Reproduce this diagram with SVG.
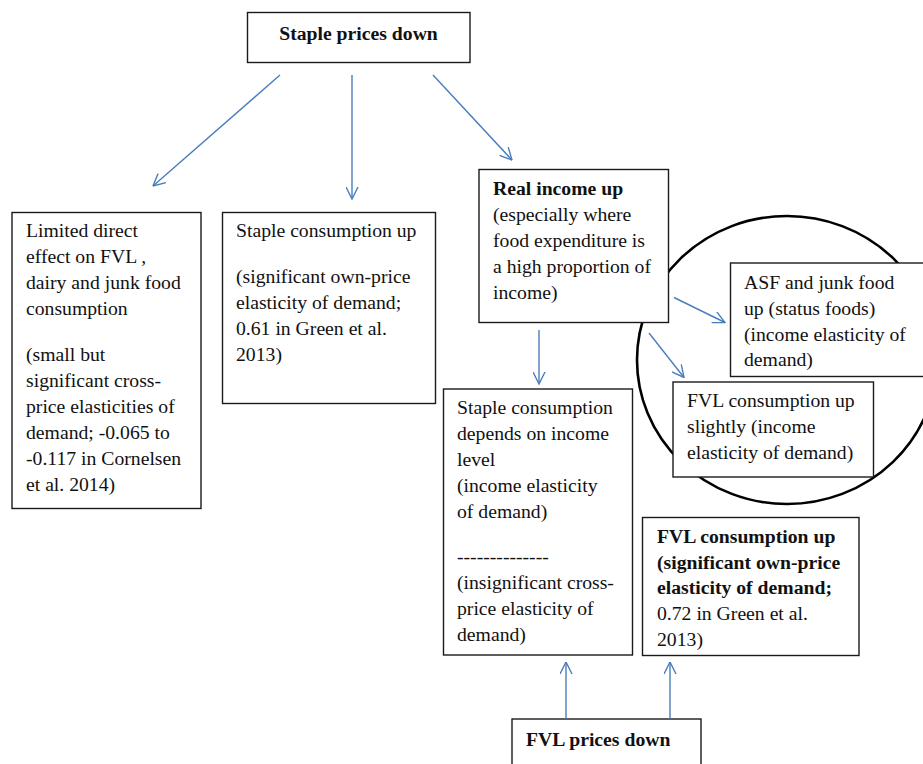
<svg xmlns="http://www.w3.org/2000/svg" width="923" height="764" viewBox="0 0 923 764">
<style>
  .box { fill: #ffffff; stroke: #1a1a1a; stroke-width: 1.4; }
  .t { font-family: "Liberation Serif", "Times New Roman", serif; font-size: 19.7px; fill: #111; }
  .b { font-weight: bold; }
  .conn line { stroke: #4a7ebb; stroke-width: 1.4; marker-end: url(#ah); }
</style>
<defs>
  <marker id="ah" viewBox="0 0 13 13" refX="12.5" refY="6.5" markerWidth="13" markerHeight="13" markerUnits="userSpaceOnUse" orient="auto">
    <path d="M0.5,0.5 L12.5,6.5 L0.5,12.5" fill="none" stroke="#4a7ebb" stroke-width="1.4"/>
  </marker>
</defs>
<rect width="923" height="764" fill="#ffffff"/>

<g id="circle-group">
  <ellipse cx="787" cy="360" rx="150" ry="144" fill="none" stroke="#000" stroke-width="2.6"/>
</g>

<g id="staple-prices-down">
  <rect class="box" x="247.5" y="12.5" width="222.5" height="50"/>
  <text class="t b" x="358.5" y="39.5" text-anchor="middle">Staple prices down</text>
</g>

<g id="limited-direct">
  <rect class="box" x="12" y="212.5" width="189" height="296"/>
  <text class="t" x="26" y="237">Limited direct</text>
  <text class="t" x="26" y="263">effect on FVL ,</text>
  <text class="t" x="26" y="289">dairy and junk food</text>
  <text class="t" x="26" y="315">consumption</text>
  <text class="t" x="26" y="361">(small but</text>
  <text class="t" x="26" y="387">significant cross-</text>
  <text class="t" x="26" y="413">price elasticities of</text>
  <text class="t" x="26" y="439">demand; -0.065 to</text>
  <text class="t" x="26" y="465">-0.117 in Cornelsen</text>
  <text class="t" x="26" y="491">et al. 2014)</text>
</g>

<g id="staple-consumption-up">
  <rect class="box" x="222.5" y="212.5" width="213" height="191"/>
  <text class="t" x="236" y="237">Staple consumption up</text>
  <text class="t" x="236" y="283">(significant own-price</text>
  <text class="t" x="236" y="309">elasticity of demand;</text>
  <text class="t" x="236" y="335">0.61 in Green et al.</text>
  <text class="t" x="236" y="361">2013)</text>
</g>

<g id="real-income-up">
  <rect class="box" x="479" y="169.5" width="189.5" height="153"/>
  <text class="t b" x="493" y="195">Real income up</text>
  <text class="t" x="493" y="221">(especially where</text>
  <text class="t" x="493" y="247">food expenditure is</text>
  <text class="t" x="493" y="273">a high proportion of</text>
  <text class="t" x="493" y="299">income)</text>
</g>

<g id="asf-junk-food-up">
  <rect class="box" x="730.5" y="263" width="200" height="113.5"/>
  <text class="t" x="744" y="289">ASF and junk food</text>
  <text class="t" x="744" y="315">up (status foods)</text>
  <text class="t" x="744" y="341">(income elasticity of</text>
  <text class="t" x="744" y="366">demand)</text>
</g>

<g id="fvl-consumption-slightly">
  <rect class="box" x="673" y="382" width="200.5" height="95"/>
  <text class="t" x="687" y="407">FVL consumption up</text>
  <text class="t" x="687" y="433">slightly (income</text>
  <text class="t" x="687" y="459">elasticity of demand)</text>
</g>

<g id="staple-depends-income">
  <rect class="box" x="443.5" y="389" width="189" height="266"/>
  <text class="t" x="457" y="414">Staple consumption</text>
  <text class="t" x="457" y="440">depends on income</text>
  <text class="t" x="457" y="466">level</text>
  <text class="t" x="457" y="492">(income elasticity</text>
  <text class="t" x="457" y="518">of demand)</text>
  <text class="t" x="457" y="563">--------------</text>
  <text class="t" x="457" y="589">(insignificant cross-</text>
  <text class="t" x="457" y="615">price elasticity of</text>
  <text class="t" x="457" y="641">demand)</text>
</g>

<g id="fvl-consumption-up">
  <rect class="box" x="642.5" y="517.5" width="216.5" height="138"/>
  <text class="t b" x="657" y="543">FVL consumption up</text>
  <text class="t b" x="657" y="569">(significant own-price</text>
  <text class="t b" x="657" y="594">elasticity of demand;</text>
  <text class="t" x="657" y="620">0.72 in Green et al.</text>
  <text class="t" x="657" y="646">2013)</text>
</g>

<g id="fvl-prices-down">
  <rect class="box" x="512" y="719" width="189" height="60"/>
  <text class="t b" x="526" y="746">FVL prices down</text>
</g>

<g id="connectors" class="conn">
  <line x1="280" y1="75" x2="153" y2="186"/>
  <line x1="352" y1="75" x2="352" y2="199"/>
  <line x1="433" y1="75" x2="512" y2="160"/>
  <line x1="539" y1="330" x2="539" y2="384"/>
  <line x1="674" y1="297.5" x2="725" y2="322.5"/>
  <line x1="649" y1="333" x2="684" y2="377.5"/>
  <line x1="566" y1="719" x2="566" y2="662"/>
  <line x1="670" y1="719" x2="670" y2="662"/>
</g>
</svg>
